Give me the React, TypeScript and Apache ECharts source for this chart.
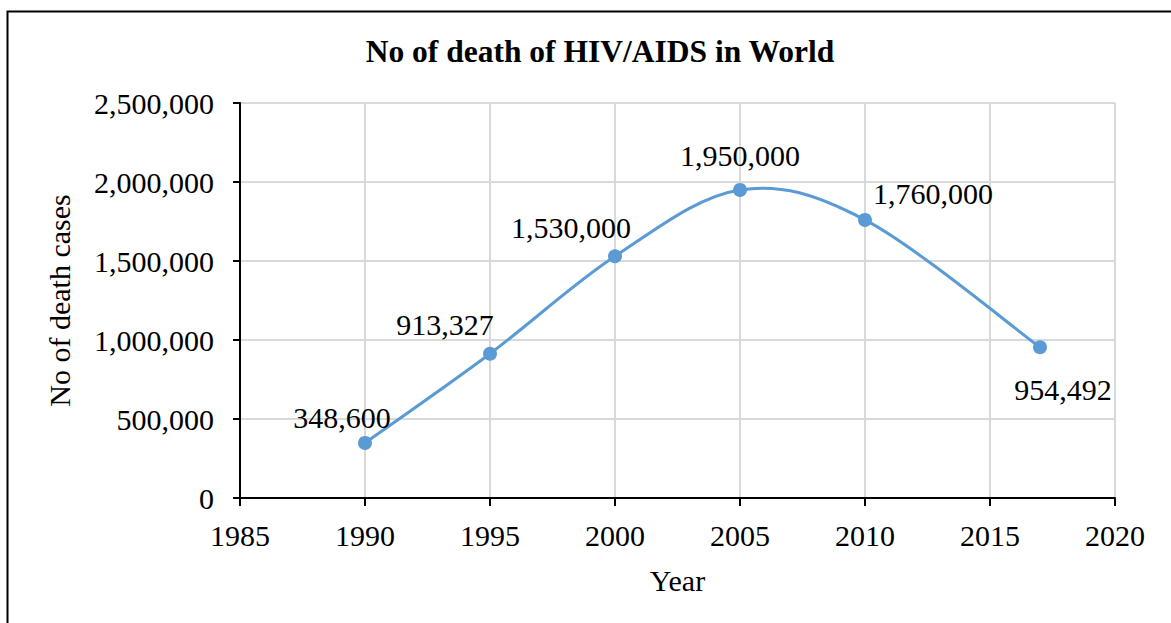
import React, { useEffect, useRef } from "react";
import * as echarts from "echarts";

const years = [1990, 1995, 2000, 2005, 2010, 2017];
const deaths = [348600, 913327, 1530000, 1950000, 1760000, 954492];
const labelOffsets: [number, number][] = [
  [-23, 2],
  [-45, -2],
  [-44, -2],
  [0, -7],
  [68, 1],
  [23, 69],
];
const titleText = "No of death of HIV/AIDS in World";
const yAxisName = "No of death cases";
const xAxisName = "Year";

const fmt = (v: number) => v.toLocaleString("en-US");
const FONT = "'Liberation Serif', 'Times New Roman', Times, serif";
const BLUE = "#5B9BD5";
const FS = 30;

export default function App() {
  const ref = useRef<HTMLDivElement>(null);
  useEffect(() => {
    if (!ref.current) return;
    const chart = echarts.init(ref.current, null, { renderer: "svg" });
    chart.setOption({
      animation: false,
      backgroundColor: "#ffffff",
      textStyle: { fontFamily: FONT, color: "#000" },
      title: {
        text: titleText,
        top: 30,
        left: 595,
        textAlign: "center",
        textStyle: { fontFamily: FONT, fontSize: 31.5, fontWeight: "bold", color: "#000" },
      },
      graphic: [
        {
          type: "rect",
          shape: { x: 7.5, y: 11.5, width: 1300, height: 800 },
          style: { fill: "none", stroke: "#000", lineWidth: 2 },
          silent: true,
        },
      ],
      grid: { left: 240, right: 56, top: 103, bottom: 125, containLabel: false },
      xAxis: {
        type: "value",
        min: 1985,
        max: 2020,
        interval: 5,
        name: xAxisName,
        nameLocation: "middle",
        nameGap: 67,
        nameTextStyle: { fontFamily: FONT, fontSize: FS, color: "#000" },
        axisLine: { show: true, onZero: false, lineStyle: { color: "#000", width: 2 } },
        axisTick: { show: true, length: 8, lineStyle: { color: "#000", width: 2 } },
        axisLabel: {
          fontFamily: FONT,
          fontSize: FS,
          color: "#000",
          margin: 22,
          formatter: (v: number) => String(v),
        },
        splitLine: { show: true, lineStyle: { color: "#d9d9d9", width: 2 } },
      },
      yAxis: {
        type: "value",
        min: 0,
        max: 2500000,
        interval: 500000,
        name: yAxisName,
        nameLocation: "middle",
        nameGap: 166,
        nameRotate: 90,
        nameTextStyle: { fontFamily: FONT, fontSize: FS, color: "#000" },
        axisLine: { show: true, lineStyle: { color: "#000", width: 2 } },
        axisTick: { show: true, length: 7, lineStyle: { color: "#000", width: 2 } },
        axisLabel: {
          fontFamily: FONT,
          fontSize: FS,
          color: "#000",
          margin: 26,
          formatter: (v: number) => fmt(v),
        },
        splitLine: { show: true, lineStyle: { color: "#d9d9d9", width: 2 } },
      },
      series: [
        {
          type: "custom",
          data: [[years[0], deaths[0]]],
          silent: true,
          z: 2,
          renderItem: (params: any, api: any) => {
            const pts = years.map((y, i) => api.coord([y, deaths[i]]));
            const n = pts.length;
            let d = `M${pts[0][0]},${pts[0][1]}`;
            for (let i = 0; i < n - 1; i++) {
              const p0 = pts[Math.max(i - 1, 0)];
              const p1 = pts[i];
              const p2 = pts[i + 1];
              const p3 = pts[Math.min(i + 2, n - 1)];
              const c1x = p1[0] + (p2[0] - p0[0]) / 6;
              const c1y = p1[1] + (p2[1] - p0[1]) / 6;
              const c2x = p2[0] - (p3[0] - p1[0]) / 6;
              const c2y = p2[1] - (p3[1] - p1[1]) / 6;
              d += ` C${c1x},${c1y} ${c2x},${c2y} ${p2[0]},${p2[1]}`;
            }
            return {
              type: "path",
              shape: { pathData: d },
              style: { fill: "none", stroke: BLUE, lineWidth: 3 },
            };
          },
        },
        {
          type: "scatter",
          z: 3,
          data: years.map((y, i) => ({
            value: [y, deaths[i]],
            label: { offset: labelOffsets[i] },
          })),
          symbol: "circle",
          symbolSize: 14,
          itemStyle: { color: BLUE, opacity: 1 },
          label: {
            show: true,
            position: "top",
            fontFamily: FONT,
            fontSize: FS,
            color: "#000",
            formatter: (p: any) => fmt(p.value[1]),
          },
        },
      ],
    });
    return () => chart.dispose();
  }, []);
  return (
    <div
      ref={ref}
      style={{ position: "fixed", left: 0, top: 0, width: 1171, height: 623 }}
    />
  );
}
